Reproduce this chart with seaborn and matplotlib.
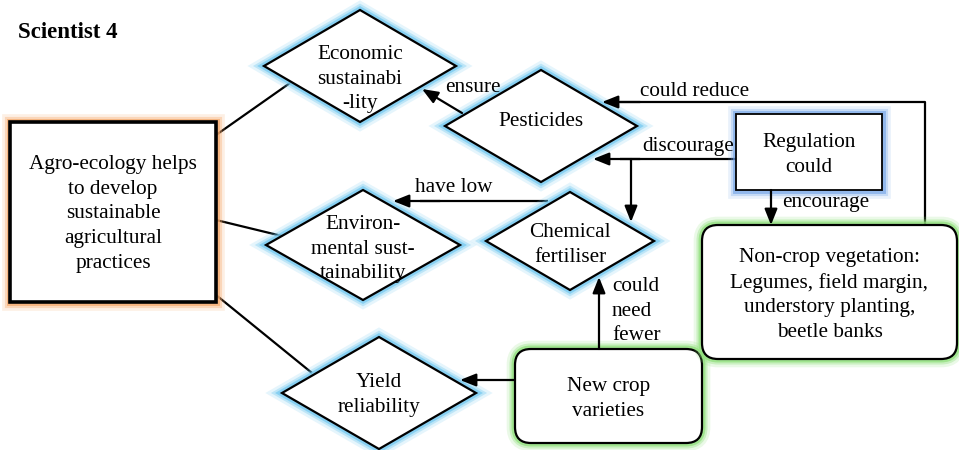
import matplotlib
matplotlib.use("Agg")
import matplotlib.pyplot as plt
import matplotlib.patheffects as pe
from matplotlib.patches import Polygon, Rectangle, FancyBboxPatch
import seaborn as sns

# тексты узлов схемы
title = "Scientist 4"
agro_text = "Agro-ecology helps\nto develop\nsustainable\nagricultural\npractices"
diamond_texts = ["Economic\nsustainabi\n-lity", "Pesticides", "Environ-\nmental sust-\ntainability",
                 "Chemical\nfertiliser", "Yield\nreliability"]
regulation_text = "Regulation\ncould"
rounded_texts = ["New crop\nvarieties",
                 "Non-crop vegetation:\nLegumes, field margin,\nunderstory planting,\nbeetle banks"]
edge_labels = ["ensure", "could reduce", "discourage", "have low", "encourage", "could\nneed\nfewer"]

# раскладка (в пикселях картинки): центр, полуширина, полувысота, центр текста по y
diamond_layout = [(360, 66, 96, 56, 79), (541, 126, 96, 56, 122), (363, 245, 97, 55, 249),
                  (570, 241, 84, 49, 245), (379, 393, 97, 56, 395)]

sns.set_theme(style="white")
plt.rcParams["font.family"] = ["Liberation Serif", "DejaVu Serif"]
plt.rcParams["text.color"] = "black"

fig = plt.figure(figsize=(9.59, 4.5), dpi=100)
ax = fig.add_axes([0, 0, 1, 1])
ax.set_xlim(0, 959)
ax.set_ylim(450, 0)
ax.axis("off")

FS = 15.3
LS = 1.4


def glow(color, a=1.0):
    return [pe.Stroke(linewidth=12, foreground=color, alpha=0.18 * a),
            pe.Stroke(linewidth=8, foreground=color, alpha=0.35 * a),
            pe.Stroke(linewidth=5, foreground=color, alpha=0.7 * a),
            pe.Normal()]


def line(pts, lw=1.6):
    xs, ys = zip(*pts)
    ax.plot(xs, ys, color="black", lw=lw, zorder=1, solid_capstyle="butt")


def arrow(start, end):
    ax.annotate("", xy=end, xytext=start,
                arrowprops=dict(arrowstyle="-|>,head_length=0.8,head_width=0.32", color="black",
                                lw=1.6, shrinkA=0, shrinkB=0, mutation_scale=12), zorder=5)


ax.text(18, 33, title, fontsize=16.5, fontweight="bold", ha="left", va="center")

# соединения от главного блока
line([(216, 135), (290, 83)])
line([(216, 220), (282, 236)])
line([(216, 295), (312, 373)])

# главный блок
agro = Rectangle((10, 122), 206, 180, facecolor="white", edgecolor="black", lw=2.6, zorder=3,
                 path_effects=glow("#f5a86a"))
ax.add_patch(agro)
ax.text(113, 214, agro_text, fontsize=FS, ha="center", va="center", linespacing=LS, zorder=4)

# ромбы
for (cx, cy, hw, hh, ty), txt in zip(diamond_layout, diamond_texts):
    poly = Polygon([(cx, cy - hh), (cx + hw, cy), (cx, cy + hh), (cx - hw, cy)], closed=True,
                   facecolor="white", edgecolor="black", lw=1.6, zorder=3, path_effects=glow("#72c8f0"))
    ax.add_patch(poly)
    ax.text(cx, ty, txt, fontsize=FS, ha="center", va="center", linespacing=LS, zorder=4)

# блок регулирования
reg = Rectangle((736, 114), 146, 76, facecolor="white", edgecolor="black", lw=1.3, zorder=3,
                path_effects=glow("#6a9fe6", 0.8))
ax.add_patch(reg)
ax.text(809, 155, regulation_text, fontsize=FS, ha="center", va="center", linespacing=LS, zorder=4)

# скруглённые блоки
for (x0, y0, w, h, ty), txt in zip([(515, 349, 187, 94, 399), (702, 225, 255, 134, 295)], rounded_texts):
    box = FancyBboxPatch((x0, y0), w, h, boxstyle="round,pad=0,rounding_size=16",
                         facecolor="white", edgecolor="black", lw=1.6, zorder=3,
                         path_effects=glow("#8fe07a"))
    ax.add_patch(box)
    ax.text(x0 + w / 2, ty, txt, fontsize=FS, ha="center", va="center",
            linespacing=LS, zorder=4)

# стрелки
arrow((462, 113), (422, 89))
ax.text(445, 88, edge_labels[0], fontsize=FS, ha="left", va="center", zorder=6)

line([(925, 225), (925, 102), (620, 102)])
arrow((640, 102), (602, 102))
ax.text(640, 91, edge_labels[1], fontsize=FS, ha="left", va="center", zorder=6)

line([(736, 159), (620, 159)])
arrow((640, 159), (593, 159))
ax.text(642, 146, edge_labels[2], fontsize=FS, ha="left", va="center", zorder=6)
arrow((631, 159), (631, 222))

line([(548, 201), (420, 201)])
arrow((440, 201), (393, 201))
ax.text(415, 188, edge_labels[3], fontsize=FS, ha="left", va="center", zorder=6)

arrow((771, 190), (771, 225))
ax.text(782, 203, edge_labels[4], fontsize=FS, ha="left", va="center", zorder=6)

arrow((599, 349), (599, 277))
ax.text(612, 311, edge_labels[5], fontsize=FS, ha="left", va="center", linespacing=LS, zorder=6)

arrow((515, 380), (460, 380))

fig.savefig("out.png", dpi=100)
